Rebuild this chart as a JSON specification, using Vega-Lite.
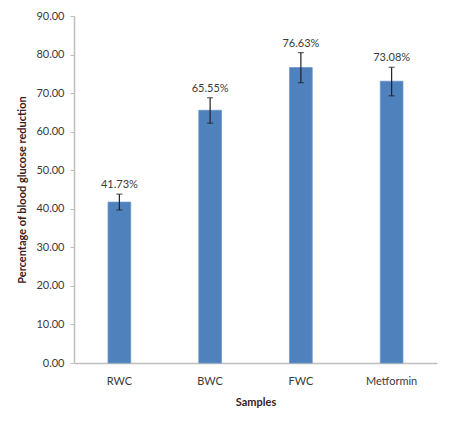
{
  "$schema": "https://vega.github.io/schema/vega-lite/v6.json",
  "width": 363,
  "height": 347,
  "autosize": "none",
  "padding": {"left": 74, "top": 16, "right": 17, "bottom": 64},
  "background": "white",
  "config": {
    "font": "Lato",
    "view": {"stroke": null},
    "axis": {
      "labelFont": "Lato", "labelFontSize": 11, "labelColor": "#3a3a3a",
      "labelOverlap": false, "labelFlush": false,
      "titleFont": "Lato", "titleFontSize": 11, "titleFontWeight": "bold", "titleColor": "#3a2020",
      "domainColor": "#bfbfbf", "domainWidth": 1.5, "tickColor": "#bfbfbf", "grid": false
    },
    "axisY": {"tickCount": 10, "format": ".2f", "tickSize": 4, "labelPadding": 6, "titlePadding": 8}
  },
  "data": {
    "values": [
      {"sample": "RWC", "value": 41.73, "lo": 39.7, "hi": 43.8, "label": "41.73%"},
      {"sample": "BWC", "value": 65.55, "lo": 62.2, "hi": 68.8, "label": "65.55%"},
      {"sample": "FWC", "value": 76.63, "lo": 72.7, "hi": 80.5, "label": "76.63%"},
      {"sample": "Metformin", "value": 73.08, "lo": 69.3, "hi": 76.7, "label": "73.08%"}
    ]
  },
  "encoding": {
    "x": {
      "field": "sample", "type": "nominal", "sort": null,
      "scale": {"paddingInner": 0.75, "paddingOuter": 0.375},
      "axis": {"title": "Samples", "labelAngle": 0, "ticks": false, "labelPadding": 12, "titlePadding": 10}
    }
  },
  "layer": [
    {
      "mark": {"type": "bar", "color": "#4f81bd", "stroke": "#6d96c9", "strokeWidth": 0.8},
      "encoding": {
        "y": {
          "field": "value", "type": "quantitative",
          "scale": {"domain": [0, 90], "nice": false},
          "title": "Percentage of blood glucose reduction",
          "axis": {"values": [0, 10, 20, 30, 40, 50, 60, 70, 80, 90]}
        }
      }
    },
    {
      "mark": {"type": "rule", "color": "#222", "strokeWidth": 1.2},
      "encoding": {
        "y": {"field": "lo", "type": "quantitative", "title": "Percentage of blood glucose reduction", "axis": {"values": [0, 10, 20, 30, 40, 50, 60, 70, 80, 90]}},
        "y2": {"field": "hi"}
      }
    },
    {
      "mark": {"type": "tick", "color": "#222", "size": 6, "thickness": 1.2},
      "encoding": {"y": {"field": "lo", "type": "quantitative", "title": "Percentage of blood glucose reduction", "axis": {"values": [0, 10, 20, 30, 40, 50, 60, 70, 80, 90]}}}
    },
    {
      "mark": {"type": "tick", "color": "#222", "size": 6, "thickness": 1.2},
      "encoding": {"y": {"field": "hi", "type": "quantitative", "title": "Percentage of blood glucose reduction", "axis": {"values": [0, 10, 20, 30, 40, 50, 60, 70, 80, 90]}}}
    },
    {
      "mark": {"type": "text", "baseline": "bottom", "dy": -4, "fontSize": 11, "color": "#3a3a3a"},
      "encoding": {
        "y": {"field": "hi", "type": "quantitative", "title": "Percentage of blood glucose reduction", "axis": {"values": [0, 10, 20, 30, 40, 50, 60, 70, 80, 90]}},
        "text": {"field": "label"}
      }
    }
  ]
}
